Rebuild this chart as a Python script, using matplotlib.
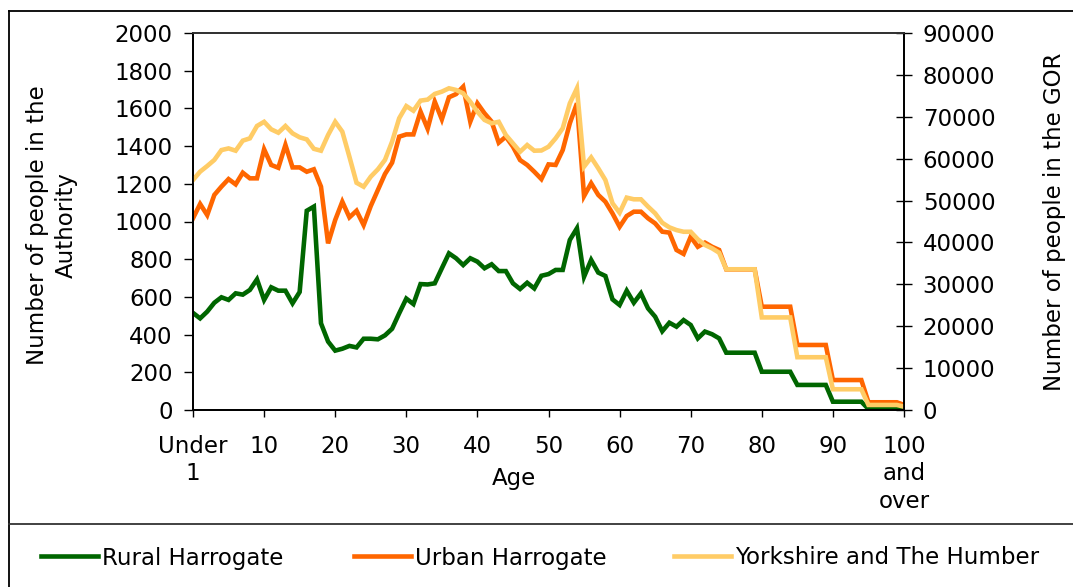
import numpy as np
import matplotlib
matplotlib.use('Agg')
import matplotlib.pyplot as plt
from matplotlib.lines import Line2D

plt.rcParams['font.family'] = ['DejaVu Sans']
plt.rcParams['font.size'] = 16.5

# single years of age 0..100 (100 = "100 and over")
ages = list(range(101))

rural = [515, 486, 522, 569, 598, 584, 619, 612, 637, 693,
         584, 651, 633, 633, 566, 626, 1057, 1079, 460, 363,
         315, 325, 340, 332, 378, 378, 375, 396, 431, 513,
         591, 562, 668, 666, 672, 752, 831, 805, 769, 805,
         787, 752, 773, 737, 737, 672, 642, 675, 645, 712,
         721, 743, 743, 902, 964, 707, 796, 729, 711, 587,
         557, 633, 569, 619, 539, 495, 418, 463, 442, 477,
         451, 380, 416, 402, 380, 304, 304, 304, 304, 304,
         203, 203, 203, 203, 203, 133, 133, 133, 133, 133,
         44, 44, 44, 44, 44, 5, 5, 5, 5, 5, 2]

urban = [1017, 1093, 1034, 1141, 1185, 1225, 1197, 1259, 1229, 1229,
         1383, 1300, 1285, 1406, 1287, 1287, 1264, 1277, 1185, 884,
         1008, 1105, 1022, 1057, 981, 1082, 1167, 1252, 1312, 1450,
         1462, 1462, 1583, 1492, 1636, 1542, 1659, 1676, 1715, 1530,
         1627, 1574, 1530, 1418, 1450, 1397, 1326, 1300, 1264, 1225,
         1303, 1300, 1379, 1521, 1627, 1135, 1203, 1141, 1105, 1043,
         972, 1029, 1052, 1052, 1017, 990, 946, 941, 849, 828,
         919, 866, 888, 866, 849, 746, 746, 746, 746, 746,
         548, 548, 548, 548, 548, 345, 345, 345, 345, 345,
         159, 159, 159, 159, 159, 41, 41, 41, 41, 41, 27]

yorkshire = [54900, 56900, 58250, 59700, 62050, 62450, 61900, 64300, 64850, 67800,
             68800, 67000, 66200, 67800, 66050, 65100, 64600, 62350, 61900, 65650,
             68800, 66450, 60450, 54250, 53300, 55700, 57450, 59700, 64050, 69650,
             72550, 71450, 73850, 74100, 75450, 76000, 76800, 76400, 75600, 73600,
             71200, 69250, 68450, 68800, 65650, 63650, 61650, 63250, 61900, 61950,
             62850, 64850, 67250, 73200, 76800, 58100, 60300, 57700, 54900, 49350,
             47100, 50700, 50300, 50300, 48550, 46950, 44700, 43600, 42950, 42550,
             42550, 40750, 39400, 38600, 37550, 33600, 33600, 33600, 33600, 33600,
             22100, 22100, 22100, 22100, 22100, 12600, 12600, 12600, 12600, 12600,
             4950, 4950, 4950, 4950, 4950, 1200, 1200, 1200, 1200, 1200, 800]

xtick_pos = [0, 10, 20, 30, 40, 50, 60, 70, 80, 90, 100]
xtick_lab = ['Under\n1', '10', '20', '30', '40', '50', '60', '70', '80', '90',
             '100\nand\nover']

names = ['Rural Harrogate', 'Urban Harrogate', 'Yorkshire and The Humber']
colors = ['#006600', '#FF6600', '#FFCC66']

W, H = 1073, 587
fig = plt.figure(figsize=(W / 100, H / 100), dpi=100)
ax = fig.add_axes([193 / W, 1 - 410 / H, (904 - 193) / W, (410 - 33) / H])
ax2 = ax.twinx()

l1, = ax.plot(ages, rural, color=colors[0], lw=3.3, solid_joinstyle='miter')
l2, = ax.plot(ages, urban, color=colors[1], lw=3.3, solid_joinstyle='miter')
l3, = ax2.plot(ages, yorkshire, color=colors[2], lw=3.3, solid_joinstyle='miter')

ax.set_xlim(0, 100)
ax.set_ylim(0, 2000)
ax2.set_ylim(0, 90000)
ax.set_yticks(range(0, 2001, 200))
ax2.set_yticks(range(0, 90001, 10000))
ax.set_xticks(xtick_pos)
ax.set_xticklabels(xtick_lab, linespacing=1.25)

ax.tick_params(axis='y', direction='out', length=6.5, width=1, pad=8)
ax.tick_params(axis='x', direction='out', length=5, width=1, pad=13)
ax2.tick_params(axis='y', direction='inout', length=12, width=1, pad=7.5)

for a in (ax, ax2):
    for s in a.spines.values():
        s.set_linewidth(1.3)
        s.set_color('black')
ax.spines['top'].set_color('#333333')
ax2.spines['top'].set_color('#333333')

fig.text(52 / W, 1 - 225 / H, 'Number of people in the\nAuthority', rotation=90,
         ha='center', va='center', multialignment='center', linespacing=1.3)
fig.text(1055 / W, 1 - 222 / H, 'Number of people in the GOR', rotation=90,
         ha='center', va='center')
fig.text(514 / W, 1 - 478 / H, 'Age', ha='center', va='center')

# legend entries, one per series
for line, name, xp in zip([l1, l2, l3], names, [41, 354, 674]):
    fig.legend([line], [name], loc='center left', bbox_to_anchor=(xp / W, 1 - 558 / H),
               frameon=False, borderpad=0, borderaxespad=0, handlelength=2.5,
               handletextpad=0.15)

# outer border and separator
fig.add_artist(Line2D([9 / W, 9 / W], [0, 1 - 11 / H], transform=fig.transFigure,
                      color='black', lw=1.3))
fig.add_artist(Line2D([9 / W, 1], [1 - 11 / H, 1 - 11 / H], transform=fig.transFigure,
                      color='black', lw=1.3))
fig.add_artist(Line2D([9 / W, 1], [1 - 524 / H, 1 - 524 / H], transform=fig.transFigure,
                      color='#333333', lw=1.3))

fig.savefig('out.png', dpi=100)
